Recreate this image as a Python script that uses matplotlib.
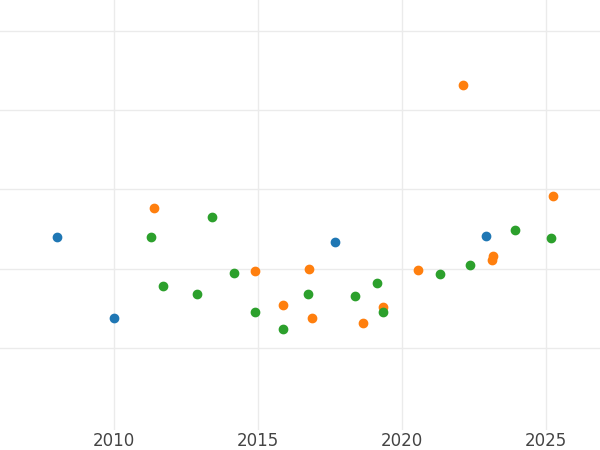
import matplotlib
matplotlib.use("Agg")
import matplotlib.pyplot as plt

blue_x = [2008.02, 2010.0, 2017.67, 2022.92]
blue_y = [2.40, 1.38, 2.34, 2.41]
orange_x = [2011.39, 2014.89, 2015.87, 2016.77, 2016.87, 2018.64, 2019.34, 2020.55, 2022.12, 2023.16, 2023.12, 2025.24]
orange_y = [2.77, 1.97, 1.54, 1.99, 1.38, 1.31, 1.52, 1.98, 4.32, 2.16, 2.11, 2.92]
green_x = [2011.28, 2011.70, 2012.88, 2013.40, 2014.17, 2014.89, 2015.87, 2016.73, 2018.37, 2019.13, 2019.34, 2021.32, 2022.36, 2023.92, 2025.17]
green_y = [2.40, 1.78, 1.68, 2.65, 1.94, 1.45, 1.24, 1.68, 1.65, 1.82, 1.45, 1.93, 2.05, 2.49, 2.39]

fig = plt.figure(figsize=(6, 4.5), dpi=100)
ax = fig.add_axes([0, 0.044, 1, 0.956])
ax.scatter(blue_x, blue_y, color="#1f77b4", s=36, zorder=3)
ax.scatter(orange_x, orange_y, color="#ff7f0e", s=36, zorder=3)
ax.scatter(green_x, green_y, color="#2ca02c", s=36, zorder=3)

ax.set_xlim(2006.04, 2026.875)
ax.set_ylim(-0.04, 5.39)
ax.set_xticks([2010, 2015, 2020, 2025])
ax.set_yticks([1, 2, 3, 4, 5])
ax.set_yticklabels([])
ax.grid(True, color="#ebebeb", linewidth=1)
ax.set_axisbelow(True)
for s in ax.spines.values():
    s.set_visible(False)
ax.tick_params(length=0, labelsize=12, labelcolor="#444444", pad=1)
fig.savefig("out.png", dpi=100)
